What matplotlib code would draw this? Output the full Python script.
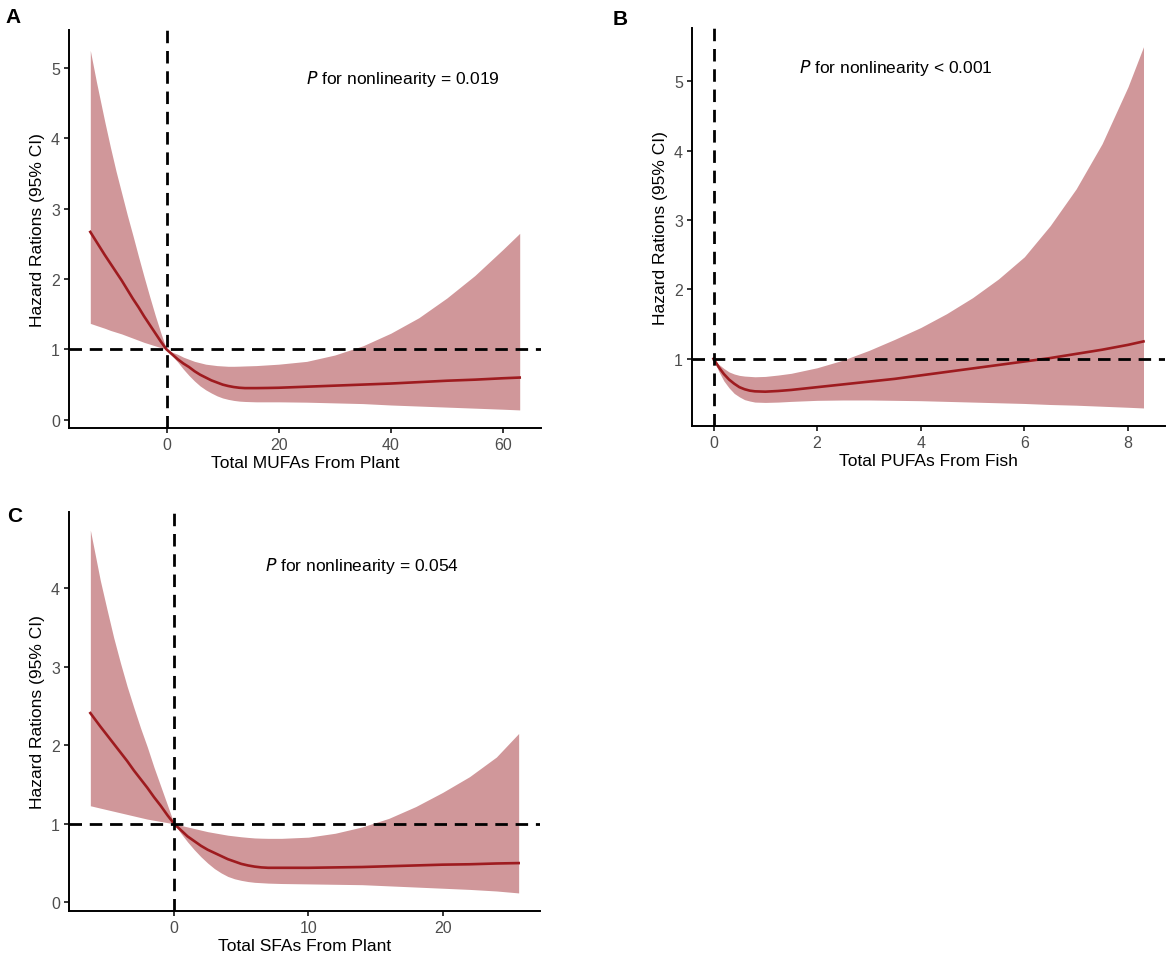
import numpy as np
import matplotlib
matplotlib.use("Agg")
import matplotlib.pyplot as plt

plt.rcParams['font.family'] = ['Liberation Sans', 'DejaVu Sans']

# Panel A: Total MUFAs From Plant
mufa_x = [-13.6, -12.5, -11, -10, -9, -8, -7, -6, -5, -4, -3, -2, -1, 0, 1, 2, 3, 4, 5, 6, 7, 8, 9, 10,
          11, 12, 13, 14, 16, 18, 20, 25, 30, 35, 40, 45, 50, 55, 60, 63]
mufa_hr = [2.67, 2.53, 2.34, 2.22, 2.10, 1.98, 1.85, 1.72, 1.60, 1.47, 1.35, 1.23, 1.11, 1.0, 0.93, 0.86,
           0.80, 0.75, 0.69, 0.64, 0.60, 0.56, 0.53, 0.50, 0.48, 0.465, 0.455, 0.45, 0.45, 0.452, 0.455,
           0.47, 0.485, 0.50, 0.515, 0.535, 0.555, 0.57, 0.59, 0.60]
mufa_hi = [5.25, 4.80, 4.23, 3.87, 3.53, 3.22, 2.91, 2.62, 2.32, 2.03, 1.75, 1.48, 1.23, 1.0, 0.96, 0.93,
           0.89, 0.86, 0.83, 0.81, 0.79, 0.78, 0.77, 0.765, 0.76, 0.76, 0.762, 0.765, 0.77, 0.78, 0.79,
           0.83, 0.92, 1.05, 1.23, 1.45, 1.73, 2.05, 2.42, 2.65]
mufa_lo = [1.37, 1.34, 1.30, 1.27, 1.245, 1.22, 1.19, 1.16, 1.13, 1.10, 1.075, 1.05, 1.025, 1.0, 0.91, 0.82,
           0.72, 0.63, 0.55, 0.48, 0.425, 0.38, 0.34, 0.31, 0.29, 0.275, 0.265, 0.26, 0.255, 0.255, 0.255,
           0.25, 0.24, 0.23, 0.21, 0.195, 0.18, 0.165, 0.15, 0.14]

# Panel B: Total PUFAs From Fish
pufa_x = [0, 0.05, 0.1, 0.15, 0.2, 0.3, 0.4, 0.5, 0.6, 0.7, 0.8, 1.0, 1.25, 1.5, 2, 2.5, 3, 3.5, 4, 4.5,
          5, 5.5, 6, 6.5, 7, 7.5, 8, 8.3]
pufa_hr = [1.0, 0.94, 0.88, 0.83, 0.78, 0.70, 0.64, 0.59, 0.56, 0.54, 0.53, 0.525, 0.535, 0.55, 0.59, 0.63,
           0.67, 0.71, 0.76, 0.81, 0.86, 0.91, 0.96, 1.01, 1.07, 1.13, 1.20, 1.25]
pufa_hi = [1.0, 0.96, 0.92, 0.89, 0.86, 0.81, 0.78, 0.76, 0.75, 0.745, 0.74, 0.745, 0.765, 0.79, 0.87, 0.98,
           1.12, 1.28, 1.45, 1.65, 1.88, 2.15, 2.47, 2.92, 3.45, 4.1, 4.92, 5.5]
pufa_lo = [1.0, 0.91, 0.82, 0.75, 0.68, 0.58, 0.50, 0.45, 0.41, 0.39, 0.375, 0.37, 0.375, 0.385, 0.40, 0.405,
           0.405, 0.40, 0.395, 0.385, 0.375, 0.365, 0.355, 0.34, 0.33, 0.315, 0.30, 0.29]

# Panel C: Total SFAs From Plant
sfa_x = [-6.24, -5.5, -5, -4.5, -4, -3.5, -3, -2.5, -2, -1.5, -1, -0.5, 0, 0.5, 1, 1.5, 2, 2.5, 3, 3.5,
         4, 4.5, 5, 5.5, 6, 6.5, 7, 8, 10, 12, 14, 16, 18, 20, 22, 24, 25.66]
sfa_hr = [2.41, 2.24, 2.13, 2.02, 1.91, 1.80, 1.68, 1.57, 1.46, 1.34, 1.23, 1.11, 1.0, 0.92, 0.84, 0.78,
          0.72, 0.67, 0.63, 0.59, 0.55, 0.52, 0.49, 0.47, 0.455, 0.445, 0.44, 0.44, 0.44, 0.445, 0.45,
          0.46, 0.47, 0.48, 0.485, 0.495, 0.50]
sfa_hi = [4.74, 4.10, 3.73, 3.37, 3.05, 2.75, 2.48, 2.22, 1.98, 1.72, 1.48, 1.24, 1.0, 0.98, 0.96, 0.94,
          0.92, 0.90, 0.885, 0.87, 0.855, 0.845, 0.835, 0.827, 0.82, 0.817, 0.815, 0.815, 0.83, 0.88, 0.96,
          1.07, 1.22, 1.40, 1.60, 1.85, 2.15]
sfa_lo = [1.23, 1.20, 1.18, 1.16, 1.14, 1.12, 1.10, 1.08, 1.06, 1.045, 1.03, 1.015, 1.0, 0.88, 0.77, 0.67,
          0.58, 0.50, 0.43, 0.375, 0.33, 0.30, 0.28, 0.265, 0.255, 0.25, 0.245, 0.24, 0.235, 0.23, 0.225,
          0.21, 0.195, 0.18, 0.165, 0.145, 0.12]

W, H = 1170, 954
fig = plt.figure(figsize=(W / 100, H / 100), dpi=100)


def make_axes(left, right, top, bottom):
    return fig.add_axes([left / W, 1 - bottom / H, (right - left) / W, (bottom - top) / H])


def draw_panel(ax, x, hr, lo, hi, xlim, ylim, xticks, yticks, xlabel, ptext, ppos):
    ax.fill_between(x, lo, hi, color='#D0979A', lw=0, zorder=1)
    ax.plot(x, hr, color='#9E1B1F', lw=1.9, zorder=2, solid_joinstyle='round')
    ax.axhline(1, color='black', lw=2, dashes=(4.5, 2.8), zorder=3)
    ax.axvline(0, color='black', lw=2, dashes=(4.5, 2.8), zorder=3)
    ax.set_xlim(*xlim)
    ax.set_ylim(*ylim)
    ax.set_xticks(xticks)
    ax.set_yticks(yticks)
    ax.spines['top'].set_visible(False)
    ax.spines['right'].set_visible(False)
    for s in ['left', 'bottom']:
        ax.spines[s].set_linewidth(1.4)
    ax.tick_params(direction='out', length=3.5, width=1.1, labelsize=11.5, labelcolor='#4D4D4D', pad=3)
    ax.set_xlabel(xlabel, fontsize=12.5, labelpad=2)
    ax.set_ylabel('Hazard Rations (95% CI)', fontsize=12.5, labelpad=4)
    ax.text(ppos[0], ppos[1], r'$\it{P}$' + ' for nonlinearity ' + ptext, fontsize=12.5,
            ha='center', va='center')


axA = make_axes(69, 541, 31, 429)
draw_panel(axA, mufa_x, mufa_hr, mufa_lo, mufa_hi, (-17.4, 66.8), (-0.117, 5.54),
           [0, 20, 40, 60], [0, 1, 2, 3, 4, 5], 'Total MUFAs From Plant', '= 0.019', (42.2, 4.86))

axB = make_axes(692, 1165, 29, 427)
draw_panel(axB, pufa_x, pufa_hr, pufa_lo, pufa_hi, (-0.415, 8.715), (0.03, 5.77),
           [0, 2, 4, 6, 8], [1, 2, 3, 4, 5], 'Total PUFAs From Fish', '< 0.001', (3.53, 5.21))

axC = make_axes(69, 540, 513, 912)
draw_panel(axC, sfa_x, sfa_hr, sfa_lo, sfa_hi, (-7.83, 27.25), (-0.11, 4.97),
           [0, 10, 20], [0, 1, 2, 3, 4], 'Total SFAs From Plant', '= 0.054', (14.0, 4.29))

fig.text(5 / W, 1 - 8 / H, 'A', fontsize=15, fontweight='bold', va='top', ha='left')
fig.text(613 / W, 1 - 10 / H, 'B', fontsize=15, fontweight='bold', va='top', ha='left')
fig.text(7 / W, 1 - 507 / H, 'C', fontsize=15, fontweight='bold', va='top', ha='left')

fig.savefig('out.png', dpi=100)
